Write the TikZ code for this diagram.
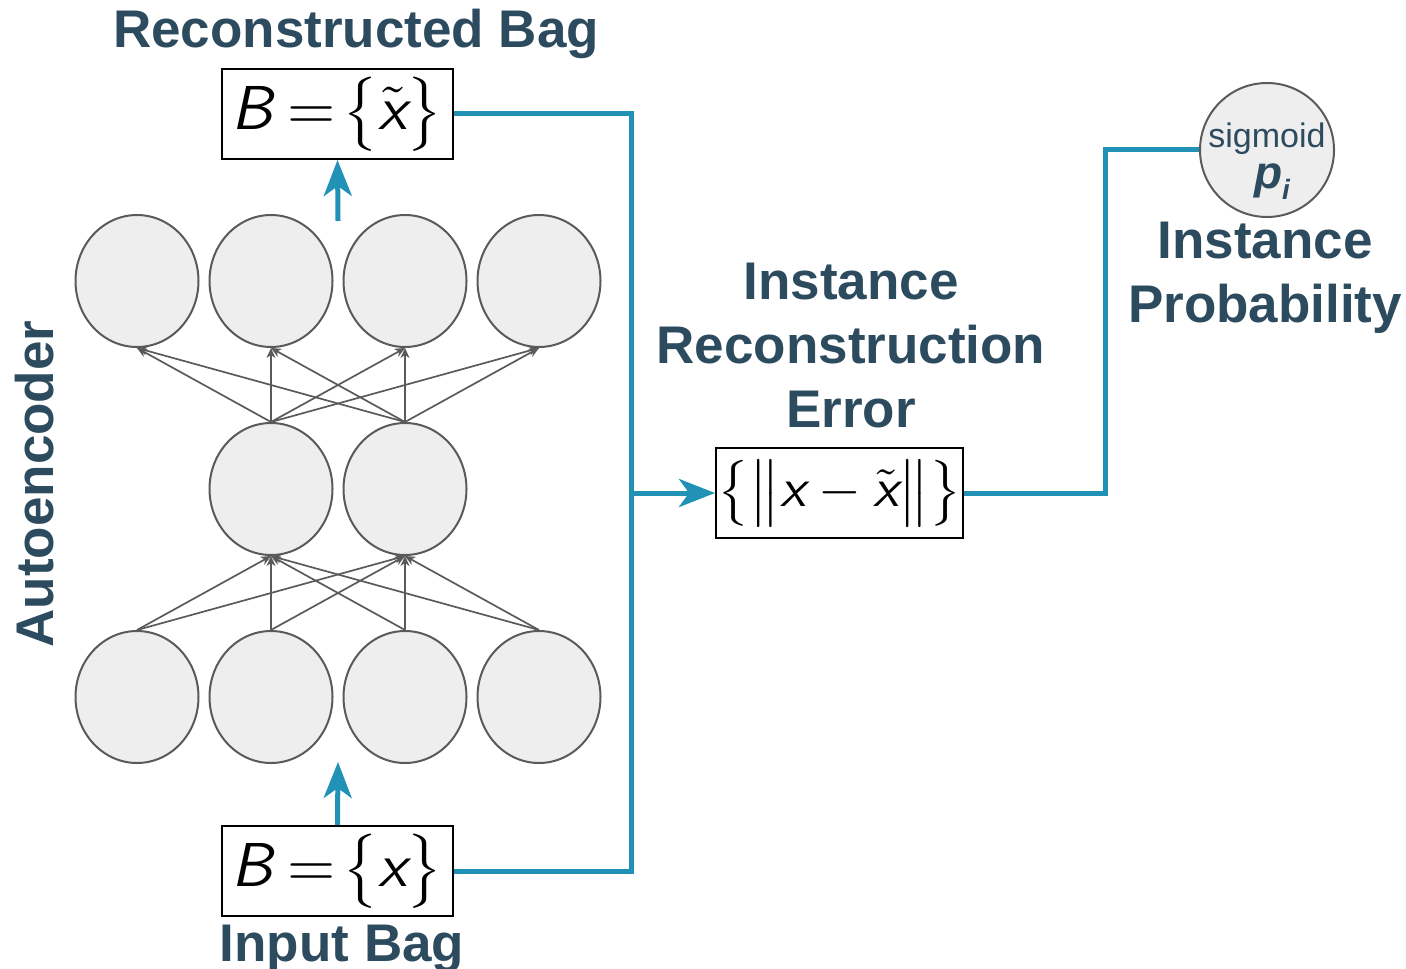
\documentclass[tikz,border=0pt]{standalone}
\usepackage{graphicx}
\usepackage{fontspec}
\newfontfamily\headfont{Liberation Sans}
\usetikzlibrary{arrows.meta,shapes.geometric}
\definecolor{slate}{HTML}{2D4B5E}
\definecolor{flow}{HTML}{2191B6}
\definecolor{cellfill}{HTML}{EEEEEE}
\definecolor{cellline}{HTML}{5A5A5A}
% sans oblique variables
\newcommand{\sv}[1]{\textsf{\itshape #1}}
\begin{document}
\begin{tikzpicture}[x=0.5pt,y=-0.5pt,
  neuron/.style={ellipse, draw=cellline, fill=cellfill, line width=1pt,
    minimum width=61.5pt, minimum height=66pt, inner sep=0pt},
  link/.style={draw=cellline, line width=0.85pt,
    -{Stealth[length=5pt,width=4.5pt,inset=1.5pt]}},
  setbox/.style={draw=black, line width=1pt, fill=white, minimum height=45pt, inner sep=0pt},
  flowline/.style={draw=flow, line width=2.5pt},
  flowarrow/.style={flowline, -{Stealth[length=18pt,width=14pt,inset=5pt]}},
  heading/.style={text=slate, font=\headfont\bfseries\fontsize{26.5}{32}\selectfont,
    align=center, inner sep=0pt},
]
\useasboundingbox (0,0) rectangle (1406,968);

% autoencoder layers
\foreach \i/\x in {1/137,2/271,3/405,4/539} {
  \node[neuron] (t\i) at (\x,281) {};
  \node[neuron] (b\i) at (\x,697) {};
}
\node[neuron] (m1) at (271,489) {};
\node[neuron] (m2) at (405,489) {};

\foreach \i in {1,...,4} \foreach \j in {1,2} {
  \draw[link] (b\i.north) -- (m\j.south);
  \draw[link] (m\j.north) -- (t\i.south);
}

% bags and error
\node[setbox, minimum width=115.5pt] (rec) at (337.5,114)
  {\scalebox{3.1}{$\sv{B}\mkern4mu{=}\mkern2mu\bigl\{\tilde{\sv{x}}\bigr\}$}};
\node[setbox, minimum width=115.5pt] (inp) at (337.5,871)
  {\scalebox{3.1}{$\sv{B}\mkern4mu{=}\mkern2mu\bigl\{\sv{x}\bigr\}$}};
\node[setbox, minimum width=123.5pt] (err) at (839.5,493)
  {\scalebox{2.75}{$\bigl\{\bigl\|\sv{x}-\tilde{\sv{x}}\bigr\|\bigr\}$}};

% sigmoid unit
\node[circle, draw=cellline, fill=cellfill, line width=1pt, minimum size=67pt, inner sep=0pt]
  (sig) at (1267,150) {};
\node[anchor=base, text=slate, font=\headfont\fontsize{17}{17}\selectfont, inner sep=0pt]
  (sigtxt) at (1267,148) {sigmoid};
\node[anchor=base, text=slate, font=\headfont\bfseries\itshape\fontsize{23}{23}\selectfont, inner sep=0pt]
  (prob) at (1272,189) {p\raisebox{-5.5pt}{\fontsize{14}{14}\selectfont i}};

% data flow
\coordinate (upA) at (338,221);
\coordinate (upB) at (338,762);
\coordinate (split) at (631,493);
\coordinate (bend) at (1105,320);
\draw[flowarrow] (upA) -- (rec.south);
\draw[flowarrow] (inp.north) -- (upB);
\draw[flowline] (rec.east) -| (split) |- (inp.east);
\draw[flowarrow] (split) -- (err.west);
\draw[flowline] (err.east) -| (bend) |- (sig.west);

% captions (base = baseline of the last line)
\node[heading, anchor=base] (rect) at (356,48) {Reconstructed Bag};
\node[heading, anchor=base] (inpt) at (342,961) {Input Bag};
\node[heading, anchor=base, rotate=90] (ae) at (53,484) {Autoencoder};
\node[heading, anchor=base] (irt) at (851,427) {Instance\\Reconstruction\\Error};
\node[heading, anchor=base] (ipt) at (1265,322) {Instance\\Probability};
\end{tikzpicture}
\end{document}
